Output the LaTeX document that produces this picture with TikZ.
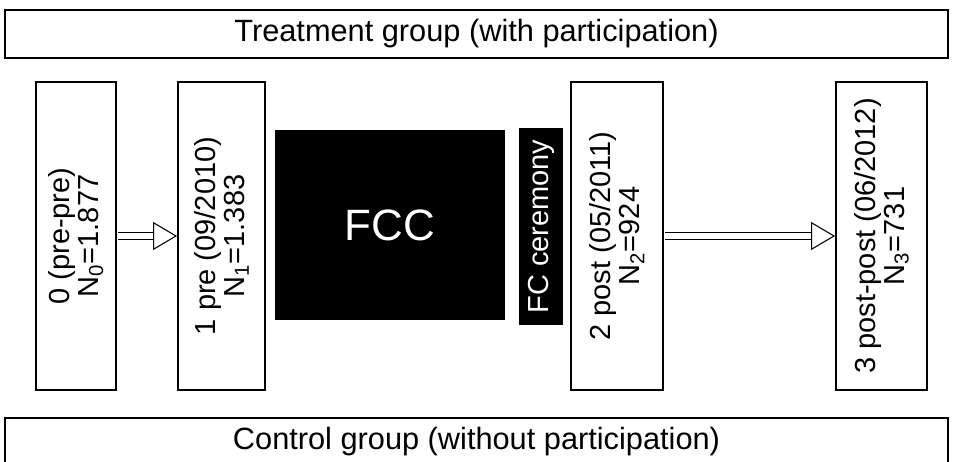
\documentclass[tikz,border=0pt]{standalone}
\usepackage{fontspec}
\setmainfont{Liberation Sans}
\usetikzlibrary{arrows.meta}

\begin{document}
\begin{tikzpicture}[
  x=0.02cm, y=-0.02cm,
  font=\fontsize{16.5}{16.5}\selectfont,
  groupbox/.style={draw,line width=1.5pt,inner sep=0pt,minimum width=18.86cm,minimum height=0.96cm,
    font=\fontsize{17.5}{19}\selectfont},
  wave/.style={draw,line width=1.1pt,rotate=90,inner sep=0pt,align=center,minimum width=6.16cm},
  blackbox/.style={fill=black,text=white,inner sep=0pt},
  hollow/.style={double,line width=0.6pt,double distance=3.2pt,shorten <=0.5pt,
    -{Triangle[open,length=0.48cm,width=0.56cm]}},
  every node/.style={align=center}]
  \useasboundingbox (0,0) rectangle (954,462);

  % groups at top and bottom
  \node[groupbox] (treat) at (476.5,34) {Treatment group (with participation)};
  \node[groupbox] (ctrl)  at (476.5,442) {Control group (without participation)};

  % survey waves
  \node[wave,minimum height=1.6cm]  (wave0) at (76,236)    {0 (pre-pre)\\N\textsubscript{0}=1.877};
  \node[wave,minimum height=1.74cm] (wave1) at (221.5,236) {1 pre (09/2010)\\N\textsubscript{1}=1.383};
  \node[wave,minimum height=1.84cm] (wave2) at (617,236)   {2 post (05/2011)\\N\textsubscript{2}=924};
  \node[wave,minimum height=1.82cm] (wave3) at (881.5,236) {3 post-post (06/2012)\\N\textsubscript{3}=731};

  % the programme
  \node[blackbox,minimum width=4.6cm,minimum height=3.8cm,font=\fontsize{25}{28}\selectfont]
        (fcc) at (390,225) {FCC};
  \node[blackbox,rotate=90,minimum width=3.94cm,minimum height=0.88cm]
        (ceremony) at (541,226.5) {FC ceremony};

  % arrows between waves
  \draw[hollow] (wave0) -- (wave1);
  \draw[hollow] (wave2) -- (wave3);
\end{tikzpicture}
\end{document}
